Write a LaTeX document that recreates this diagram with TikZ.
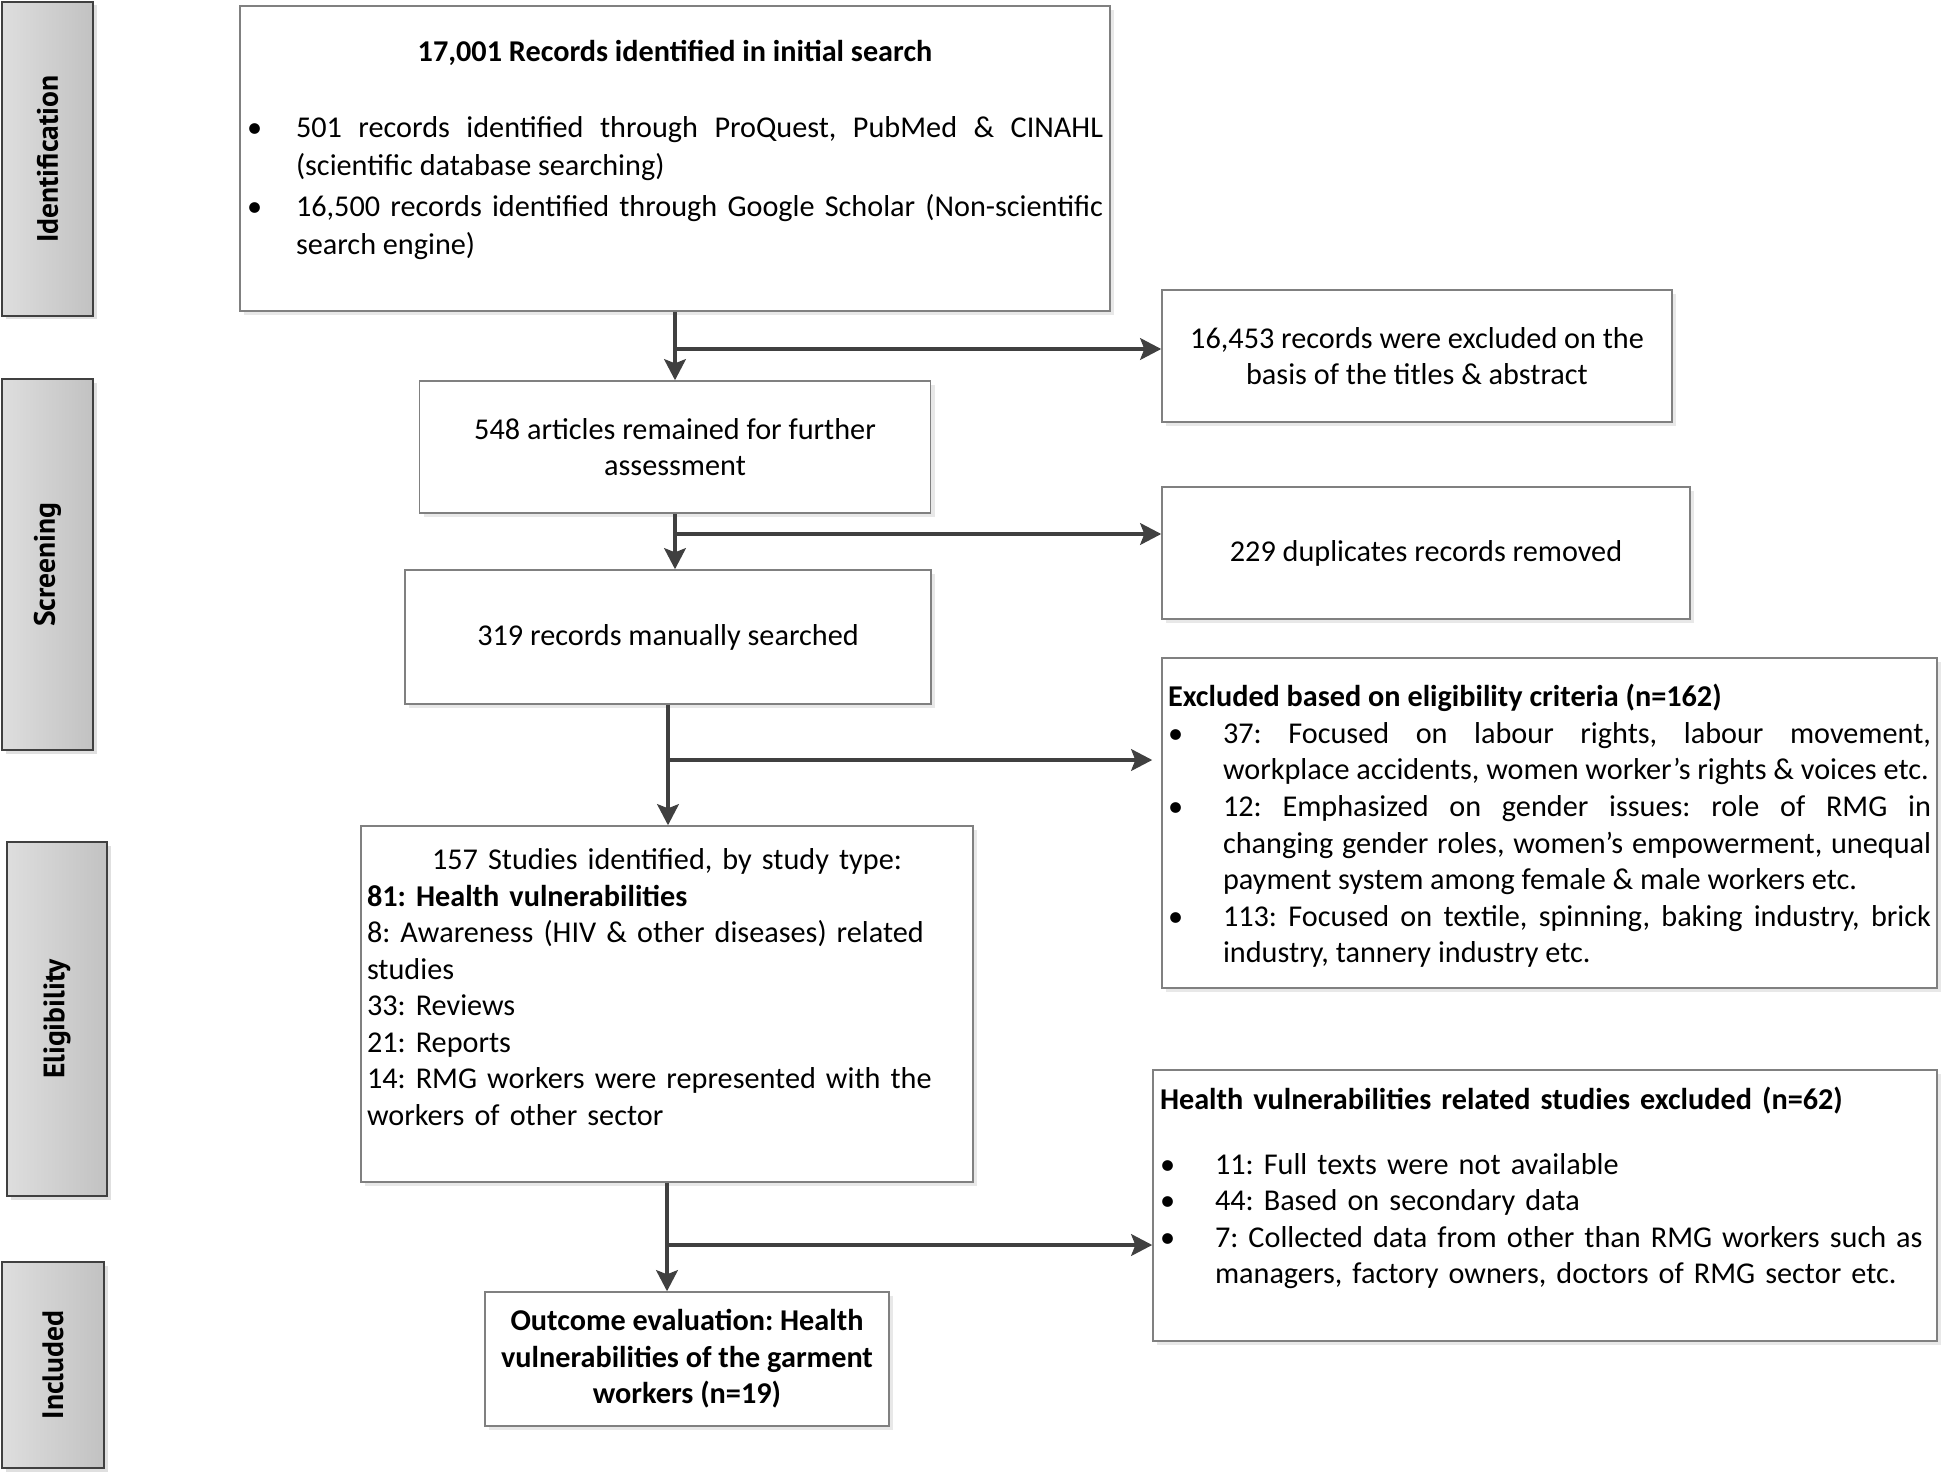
\documentclass[tikz,border=0pt]{standalone}
\usepackage{fontspec}
\setmainfont{Carlito}
\newfontfamily\stagefont{PT Sans}
\usepackage{graphicx}
\usetikzlibrary{arrows.meta,shadows,positioning}

\frenchspacing
\newcommand{\bitem}[2][4.4mm]{\par\noindent\hangindent=#1\hangafter=1\makebox[#1][l]{\textbullet}#2}
\newcommand{\padbottom}[1]{\par\vspace{#1}\hrule height 0pt width 0pt}

\begin{document}
\begin{tikzpicture}[x=0.1mm,y=-0.1mm,
    stage/.style={draw=black!75,line width=0.6pt,left color=black!13,right color=black!24,
      drop shadow={shadow xshift=0.35mm,shadow yshift=-0.35mm,fill=black!12,opacity=1},
      font=\stagefont\bfseries\fontsize{8.4}{10}\selectfont,inner sep=0pt},
    box/.style={draw=black!50,line width=0.45pt,fill=white,
      drop shadow={shadow xshift=0.4mm,shadow yshift=-0.4mm,fill=black!9,opacity=1},
      font=\fontsize{8.6}{10.4}\selectfont,inner sep=0.6mm},
    arr/.style={draw=black!75,line width=0.9pt,-{Stealth[length=6pt,width=6.2pt,inset=1.2pt]}}]
    \useasboundingbox (0,0) rectangle (1944,1474);

    \node[stage,minimum width=9.1mm,minimum height=31.4mm] (ident) at (47.5,159) {\rotatebox{90}{Identification}};
    \node[stage,minimum width=9.1mm,minimum height=37.1mm] (screen) at (47.5,564.5) {\rotatebox{90}{Screening}};
    \node[stage,minimum width=10mm,minimum height=35.4mm] (elig) at (57,1019) {\rotatebox{90}{Eligibility}};
    \node[stage,minimum width=10.2mm,minimum height=20.6mm] (incl) at (53,1365) {\rotatebox{90}{Included}};

    \node[box,minimum width=87mm,minimum height=30.5mm,text width=85.6mm,inner xsep=0.7mm,align=justify,
        font=\fontsize{8.6}{10.8}\selectfont] (recs) at (675,158.5)
        {{\noindent\bfseries\centering 17,001 Records identified in initial search\par}\vspace{3.8mm}
        \bitem[4.9mm]{501 records identified through ProQuest, PubMed \& CINAHL\linebreak (scientific database searching)}\par\vspace{0.3mm}
        \bitem[4.9mm]{16,500 records identified through Google Scholar (Non-scientific\linebreak search engine)}\padbottom{1.7mm}};
    \node[box,minimum width=51.1mm,minimum height=13.2mm,align=center] (scr) at (675,447)
        {548 articles remained for further\\assessment};
    \node[box,minimum width=52.6mm,minimum height=13.4mm,align=center] (man) at (668,637)
        {319 records manually searched};
    \node[box,minimum width=61.2mm,minimum height=35.6mm,text width=60mm,align=left] (studies) at (667,1004)
        {{\noindent\centering 157 Studies identified, by study type:\par}
        \noindent\textbf{81: Health vulnerabilities}\\
        8: Awareness (HIV \& other diseases) related\\
        studies\\
        33: Reviews\\
        21: Reports\\
        14: RMG workers were represented with the\\
        workers of other sector\padbottom{3.4mm}};
    \node[box,minimum width=40.4mm,minimum height=13.4mm,align=center,font=\bfseries\fontsize{8.6}{10.4}\selectfont] (outc) at (687,1359)
        {Outcome evaluation: Health\\vulnerabilities of the garment\\workers (n=19)};

    \node[box,minimum width=51mm,minimum height=13.2mm,align=center] (excl1) at (1417,356)
        {16,453 records were excluded on the\\basis of the titles \& abstract};
    \node[box,minimum width=52.8mm,minimum height=13.2mm,align=center] (dupl) at (1426,553)
        {229 duplicates records removed};
    \node[box,minimum width=77.5mm,minimum height=33mm,text width=76.3mm,align=justify] (crit) at (1549.5,823)
        {\hrule height 0pt width 0pt\vspace{0.6mm}
        \noindent\textbf{Excluded based on eligibility criteria (n=162)}\par
        \bitem[5.5mm]{37: Focused on labour rights, labour movement,\linebreak workplace accidents, women worker's rights \& voices etc.}
        \bitem[5.5mm]{12: Emphasized on gender issues: role of RMG in\linebreak changing gender roles, women's empowerment, unequal\linebreak payment system among female \& male workers etc.}
        \bitem[5.5mm]{113: Focused on textile, spinning, baking industry, brick\linebreak industry, tannery industry etc.}\par};
    \node[box,minimum width=78.4mm,minimum height=27.1mm,text width=77mm,inner xsep=0.7mm,align=left] (hvx) at (1545,1205.5)
        {\noindent\textbf{Health vulnerabilities related studies excluded (n=62)}\par\vspace{2.8mm}
        \bitem[5.5mm]{11: Full texts were not available}
        \bitem[5.5mm]{44: Based on secondary data}
        \bitem[5.5mm]{7: Collected data from other than RMG workers such as\newline managers, factory owners, doctors of RMG sector etc.}\padbottom{3.5mm}};

    \coordinate (j1) at (675,349);
    \coordinate (j2) at (675,534);
    \coordinate (j3) at (668,760);
    \coordinate (j4) at (667,1245);

    \draw[arr] (recs.south) -- (scr.north);
    \draw[arr] (j1) -- (excl1.west |- j1);
    \draw[arr] (scr.south) -- (scr.south |- man.north);
    \draw[arr] (j2) -- (dupl.west |- j2);
    \draw[arr] (man.south) -- (man.south |- studies.north);
    \draw[arr,shorten >=0.9mm] (j3) -- (crit.west |- j3);
    \draw[arr] (studies.south) -- (studies.south |- outc.north);
    \draw[arr] (j4) -- (hvx.west |- j4);
\end{tikzpicture}
\end{document}
